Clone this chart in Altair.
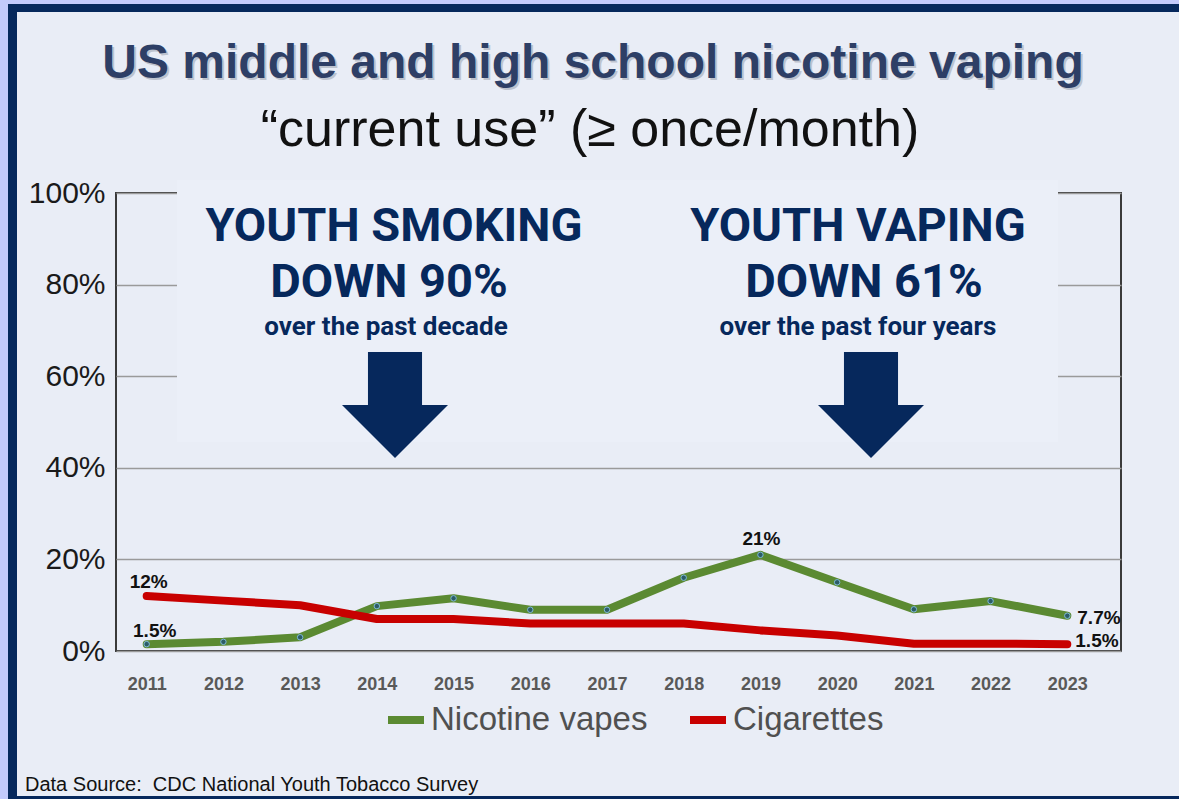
import altair as alt
import pandas as pd

# ---------------- data ----------------
years = list(range(2011, 2024))
vapes = [1.5, 2.0, 3.0, 9.8, 11.5, 9.0, 9.0, 16.0, 21.0, 15.0, 9.1, 10.9, 7.7]
cigarettes = [12.0, 11.0, 10.0, 7.0, 7.0, 6.0, 6.0, 6.0, 4.5, 3.4, 1.6, 1.6, 1.5]
series_names = ["Nicotine vapes", "Cigarettes"]
y_ticks = [0, 20, 40, 60, 80, 100]

title_text = "US middle and high school nicotine vaping"
subtitle_text = "\u201ccurrent use\u201d (\u2265 once/month)"
source_text = "Data Source:\u00a0 CDC National Youth Tobacco Survey"
left_head = ["YOUTH SMOKING", "DOWN 90%"]
left_sub = "over the past decade"
right_head = ["YOUTH VAPING", "DOWN 61%"]
right_sub = "over the past four years"

# ---------------- style ----------------
GREEN = "#5b8a32"
RED = "#c80000"
NAVY = "#06285c"
PERI = "#c3cafb"
BG = "#e9edf6"
PLOT_BG = "#dde3ee"
BOX_BG = "#ebeff8"
FONT = "Liberation Sans, Arial, sans-serif"
HEAD = "Roboto, Liberation Sans, Arial, sans-serif"

W, H = 1005, 458
PAD = {"left": 116, "top": 193, "right": 58, "bottom": 148}

df = pd.DataFrame({
    "year": years * 2,
    "value": vapes + cigarettes,
    "series": [series_names[0]] * len(years) + [series_names[1]] * len(years),
})
df_v = df[df.series == series_names[0]]
df_c = df[df.series == series_names[1]]

xs = alt.Scale(domain=[2010.6, 2023.7], nice=False, zero=False)
ys = alt.Scale(domain=[0, 100], nice=False)
cs = alt.Scale(domain=series_names, range=[GREEN, RED])

X = alt.X("year:Q", scale=xs, axis=alt.Axis(values=years, format="d", title=None, grid=False,
                                            domain=False, ticks=False, labelFlush=False,
                                            labelFontSize=18, labelFontWeight="bold",
                                            labelColor="#595959", labelPadding=24, labelFont=FONT))
Y = alt.Y("value:Q", scale=ys, axis=alt.Axis(values=y_ticks, labelExpr="datum.value + '%'", title=None,
                                             grid=True, gridColor="#9a9a9a", gridWidth=1.5,
                                             domain=False, ticks=False, labelFontSize=30,
                                             labelColor="#1a1a1a", labelPadding=11, labelFont=FONT))
C = alt.Color("series:N", scale=cs, legend=alt.Legend(
    orient="none", legendX=268, legendY=505, direction="horizontal", title=None,
    symbolType="stroke", symbolStrokeWidth=8, symbolSize=1296, labelFontSize=33,
    labelColor="#505050", labelFont=FONT, labelLimit=500, columnPadding=26, labelOffset=3))


def one():
    return alt.Chart(pd.DataFrame({"t": [""]}))


def rect(x, x2, y, y2, color):
    return one().mark_rect(color=color, opacity=1).encode(
        x=alt.value(x), x2=alt.value(x2), y=alt.value(y), y2=alt.value(y2))


def txt(s, x, y, size, weight="normal", color="black", font=FONT, align="center", **kw):
    return alt.Chart(pd.DataFrame({"t": [s]})).mark_text(
        x=x, y=y, fontSize=size, fontWeight=weight, color=color, font=font,
        align=align, baseline="alphabetic", **kw).encode(text="t:N")


arrow_path = "M-0.51,-1L0.51,-1L0.51,0L1,0L0,1L-1,0L-0.51,0Z"


def arrow(x, y):
    return one().mark_point(shape=arrow_path, filled=True, fill=NAVY, stroke=NAVY,
                            strokeWidth=0, opacity=1, size=106 * 106).encode(
        x=alt.value(x), y=alt.value(y))


layers = [
    # border strips
    rect(-116, -108, -193, 606, PERI),
    rect(-108, -99, -193, 606, NAVY),
    rect(-116, 1063, -193, -189, PERI),
    rect(-108, 1063, -189, -181, NAVY),
    rect(-108, 1063, 603, 606, NAVY),
    # annotation box
    rect(61, 942, -13, 249, BOX_BG),
    # titles
    txt(title_text, 479, -113, 48, "bold", "#9aa1ae", opacity=0.55),
    txt(title_text, 477, -115, 48, "bold", "#2e3f66"),
    txt(subtitle_text, 474, -47, 52, "normal", "#111111"),
    txt(source_text, -91, 598, 20, "normal", "#111111", align="left"),
    # headline annotations
    txt(left_head[0], 278, 48, 47, "bold", NAVY, HEAD),
    txt(left_head[1], 273, 104, 47, "bold", NAVY, HEAD),
    txt(left_sub, 270, 142, 26, "bold", NAVY, HEAD),
    txt(right_head[0], 742, 48, 47, "bold", NAVY, HEAD),
    txt(right_head[1], 748, 104, 47, "bold", NAVY, HEAD),
    txt(right_sub, 742, 142, 26, "bold", NAVY, HEAD),
    arrow(279, 212),
    arrow(755, 212),
]

line_v = alt.Chart(df_v).mark_line(strokeWidth=8, strokeCap="round", strokeJoin="round").encode(x=X, y=Y, color=C)
line_c = alt.Chart(df_c).mark_line(strokeWidth=8, strokeCap="round", strokeJoin="round").encode(x=X, y=Y, color=C)
pts_v = alt.Chart(df_v).mark_point(filled=True, fill="#2c5d66", stroke="#7fb8d8", strokeWidth=1,
                                   size=30, opacity=1).encode(x="year:Q", y="value:Q")

# data labels, values taken from the series
lab_top = pd.DataFrame({
    "year": [years[0], years[0], years[8]],
    "value": [cigarettes[0], vapes[0], vapes[8]],
    "t": [f"{cigarettes[0]:g}%", f"{vapes[0]:g}%", f"{vapes[8]:g}%"],
})
lab_right = pd.DataFrame({
    "year": [years[-1], years[-1]],
    "value": [vapes[-1], cigarettes[-1]],
    "t": [f"{vapes[-1]:g}%", f"{cigarettes[-1]:g}%"],
})
lt1 = alt.Chart(lab_top.iloc[[0]]).mark_text(fontSize=19, fontWeight="bold", font=FONT, color="#111111",
                                             baseline="alphabetic", dx=2, dy=-8).encode(
    x="year:Q", y="value:Q", text="t:N")
lt2 = alt.Chart(lab_top.iloc[[1]]).mark_text(fontSize=19, fontWeight="bold", font=FONT, color="#111111",
                                             baseline="alphabetic", dx=8, dy=-7).encode(
    x="year:Q", y="value:Q", text="t:N")
lt3 = alt.Chart(lab_top.iloc[[2]]).mark_text(fontSize=19, fontWeight="bold", font=FONT, color="#111111",
                                             baseline="alphabetic", dx=1, dy=-10).encode(
    x="year:Q", y="value:Q", text="t:N")
lr1 = alt.Chart(lab_right.iloc[[0]]).mark_text(fontSize=19, fontWeight="bold", font=FONT, color="#111111",
                                               align="left", baseline="middle", dx=10, dy=2).encode(
    x="year:Q", y="value:Q", text="t:N")
lr2 = alt.Chart(lab_right.iloc[[1]]).mark_text(fontSize=19, fontWeight="bold", font=FONT, color="#111111",
                                               align="left", baseline="middle", dx=8, dy=-3).encode(
    x="year:Q", y="value:Q", text="t:N")

chart = alt.layer(*layers, line_v, line_c, pts_v, lt1, lt2, lt3, lr1, lr2).properties(
    width=W, height=H,
    autosize=alt.AutoSizeParams(type="none"),
    padding=PAD,
).configure(background=BG, font="Liberation Sans").configure_view(
    fill=PLOT_BG, stroke="#3a3a3a", strokeWidth=2)

chart.save("out.html", embed_options={"renderer": "svg", "actions": False})
